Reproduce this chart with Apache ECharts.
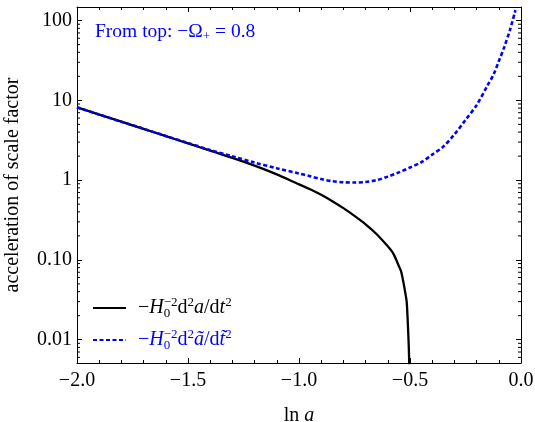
<!DOCTYPE html>
<html>
<head>
<meta charset="utf-8">
<script src="https://cdn.jsdelivr.net/npm/echarts@6.0.0/dist/echarts.min.js"></script>
<style>
html, body { margin: 0; padding: 0; background: #fff; }
#chart { width: 535px; height: 422px; }
</style>
</head>
<body>
<div id="chart"></div>
<script>
// ln a and -H0^-2 d2a/dt2 (solid black)
var lnA_black = [-2.0, -1.9, -1.8, -1.7, -1.6, -1.5, -1.4, -1.3, -1.2, -1.1, -1.0, -0.95, -0.9, -0.85,
    -0.8, -0.75, -0.7, -0.65, -0.6, -0.575, -0.55, -0.54, -0.53, -0.52, -0.515, -0.51, -0.505, -0.502];
var accel_black = [8.18, 6.64, 5.40, 4.39, 3.56, 2.89, 2.34, 1.90, 1.52, 1.18, 0.884, 0.77, 0.655, 0.545,
    0.446, 0.356, 0.279, 0.21, 0.148, 0.12, 0.0834, 0.0716, 0.053, 0.037, 0.0300, 0.0166, 0.0074, 0.0032];

// ln a and -H0^-2 d2ã/dt̃2 (dotted blue)
var lnA_blue = [-2.0, -1.9, -1.8, -1.7, -1.6, -1.5, -1.4, -1.3, -1.2, -1.1, -1.0, -0.95, -0.9, -0.85,
    -0.8, -0.75, -0.7, -0.65, -0.6, -0.55, -0.5, -0.45, -0.4, -0.35, -0.3, -0.25, -0.2, -0.15,
    -0.125, -0.1, -0.075, -0.05, -0.025];
var accel_blue = [8.18, 6.64, 5.40, 4.40, 3.58, 2.92, 2.38, 1.99, 1.66, 1.41, 1.21, 1.12, 1.03, 0.97,
    0.94, 0.933, 0.946, 1.0, 1.106, 1.25, 1.44, 1.67, 2.09, 2.63, 3.74, 5.68, 8.7, 15.5,
    20.7, 30.9, 47, 75.9, 135];

var yTickValues = [0.01, 0.1, 1, 10, 100];
var yTickLabels = ['0.01', '0.10', '1', '10', '100'];
var yMinorTicks = [0.006, 0.007, 0.008, 0.009,
    0.02, 0.03, 0.04, 0.05, 0.06, 0.07, 0.08, 0.09,
    0.2, 0.3, 0.4, 0.5, 0.6, 0.7, 0.8, 0.9,
    2, 3, 4, 5, 6, 7, 8, 9,
    20, 30, 40, 50, 60, 70, 80, 90];

var xMin = -2, xMax = 0, yMin = 0.0051, yMax = 148;
var FONT = 'Liberation Serif';
var BLUE = '#0000ff';

var chart = echarts.init(document.getElementById('chart'));

function zip(xs, ys) {
    var out = [];
    for (var i = 0; i < xs.length; i++) {
        out.push([xs[i], ys[i]]);
    }
    return out;
}

function yLabel(v) {
    for (var i = 0; i < yTickValues.length; i++) {
        if (Math.abs(Math.log10(v) - Math.log10(yTickValues[i])) < 1e-6) {
            return yTickLabels[i];
        }
    }
    return '';
}

function xAxisConfig(pos, showLabels) {
    return {
        type: 'value',
        position: pos,
        min: xMin,
        max: xMax,
        interval: 0.5,
        axisLine: { show: true, onZero: false, lineStyle: { color: '#000', width: 1 } },
        axisTick: { show: true, inside: true, length: 5, lineStyle: { color: '#000', width: 1 } },
        minorTick: { show: true, splitNumber: 5, length: 3, lineStyle: { color: '#000', width: 1 } },
        axisLabel: {
            show: showLabels,
            margin: 8,
            fontFamily: FONT,
            fontSize: 20,
            color: '#000',
            formatter: function(v) { return v.toFixed(1).replace('-', '\u2212'); }
        },
        splitLine: { show: false }
    };
}

function yAxisConfig(pos, showLabels) {
    return {
        type: 'log',
        logBase: 10,
        position: pos,
        min: yMin,
        max: yMax,
        axisLine: { show: true, onZero: false, lineStyle: { color: '#000', width: 1 } },
        axisTick: { show: true, inside: true, length: 5, lineStyle: { color: '#000', width: 1 } },
        axisLabel: {
            show: showLabels,
            margin: 5,
            fontFamily: FONT,
            fontSize: 20,
            color: '#000',
            showMinLabel: false,
            showMaxLabel: false,
            formatter: yLabel
        },
        splitLine: { show: false }
    };
}

var bottomAxis = xAxisConfig('bottom', true);
bottomAxis.name = '{n|ln }{i|a}';
bottomAxis.nameLocation = 'middle';
bottomAxis.nameGap = 43;
bottomAxis.nameTextStyle = {
    color: '#000',
    rich: {
        n: { fontFamily: FONT, fontSize: 20, color: '#000' },
        i: { fontFamily: FONT, fontSize: 20, fontStyle: 'italic', color: '#000' }
    }
};

var leftAxis = yAxisConfig('left', true);
leftAxis.name = 'acceleration of scale factor';
leftAxis.nameLocation = 'middle';
leftAxis.nameRotate = 90;
leftAxis.nameGap = 54;
leftAxis.nameTextStyle = { fontFamily: FONT, fontSize: 20, color: '#000' };

var legendRich = {
    black: '{m0|\u2212}{i|H}{sb|0}{sp|\u22122}{m|d}{sp|2}{i|a}{m|/d}{i|t}{sp|2}',
    blue: '{m0|\u2212}{i|H}{sb|0}{sp|\u22122}{m|d}{sp|2}{i|\u00e3}{m|/d}{i|t\u0303}{sp|2}'
};

var richStyles = {
    m0: { fontFamily: FONT, fontSize: 20, lineHeight: 24, padding: [0, 0, 0, 7] },
    m: { fontFamily: FONT, fontSize: 20, lineHeight: 24 },
    i: { fontFamily: FONT, fontSize: 20, fontStyle: 'italic', lineHeight: 24 },
    sb: { fontFamily: FONT, fontSize: 13, lineHeight: 13, verticalAlign: 'bottom', width: 0 },
    sp: { fontFamily: FONT, fontSize: 13, lineHeight: 13, verticalAlign: 'top' }
};

chart.setOption({
    animation: false,
    backgroundColor: '#fff',
    grid: { left: 77, right: 14, top: 7, bottom: 59, containLabel: false, outerBoundsMode: 'none' },
    title: {
        text: '{m|From top: \u2212\u03a9}{sb|+}{m| = 0.8}',
        left: 95,
        top: 20,
        padding: 0,
        textStyle: {
            color: BLUE,
            fontWeight: 'normal',
            rich: {
                m: { fontFamily: FONT, fontSize: 19.5, fontWeight: 'normal', lineHeight: 23, color: BLUE },
                sb: { fontFamily: FONT, fontSize: 13, fontWeight: 'normal', lineHeight: 13,
                      verticalAlign: 'bottom', color: BLUE }
            }
        }
    },
    legend: {
        orient: 'vertical',
        left: 92,
        top: 296,
        padding: 0,
        itemWidth: 33,
        itemHeight: 14,
        itemGap: 8,
        itemStyle: { opacity: 0, borderWidth: 0 },
        data: [
            { name: 'black', textStyle: { color: '#000' } },
            { name: 'blue', textStyle: { color: BLUE } }
        ],
        formatter: function(name) { return legendRich[name]; },
        textStyle: { rich: richStyles }
    },
    xAxis: [bottomAxis, xAxisConfig('top', false)],
    yAxis: [leftAxis, yAxisConfig('right', false)],
    series: [
        {
            name: 'black',
            type: 'line',
            data: zip(lnA_black, accel_black),
            showSymbol: false,
            symbol: 'none',
            smooth: 0.3,
            clip: true,
            lineStyle: { color: '#000', width: 2.3 },
            itemStyle: { color: '#000' }
        },
        {
            name: 'blue',
            type: 'line',
            data: zip(lnA_blue, accel_blue),
            showSymbol: false,
            symbol: 'none',
            smooth: 0.3,
            clip: true,
            lineStyle: { color: BLUE, width: 2.6, type: [4, 2.5] },
            itemStyle: { color: BLUE }
        },
        {
            // log minor ticks on the left and right frame edges
            type: 'custom',
            silent: true,
            data: yMinorTicks.map(function(v) { return [xMin, v]; }),
            encode: { x: 0, y: 1 },
            renderItem: function(params, api) {
                var l = api.coord([xMin, api.value(1)]);
                var r = api.coord([xMax, api.value(1)]);
                return {
                    type: 'group',
                    children: [
                        { type: 'line', shape: { x1: l[0], y1: l[1], x2: l[0] + 3, y2: l[1] },
                          style: { stroke: '#000', lineWidth: 1 } },
                        { type: 'line', shape: { x1: r[0] - 3, y1: r[1], x2: r[0], y2: r[1] },
                          style: { stroke: '#000', lineWidth: 1 } }
                    ]
                };
            }
        }
    ]
});
</script>
</body>
</html>
